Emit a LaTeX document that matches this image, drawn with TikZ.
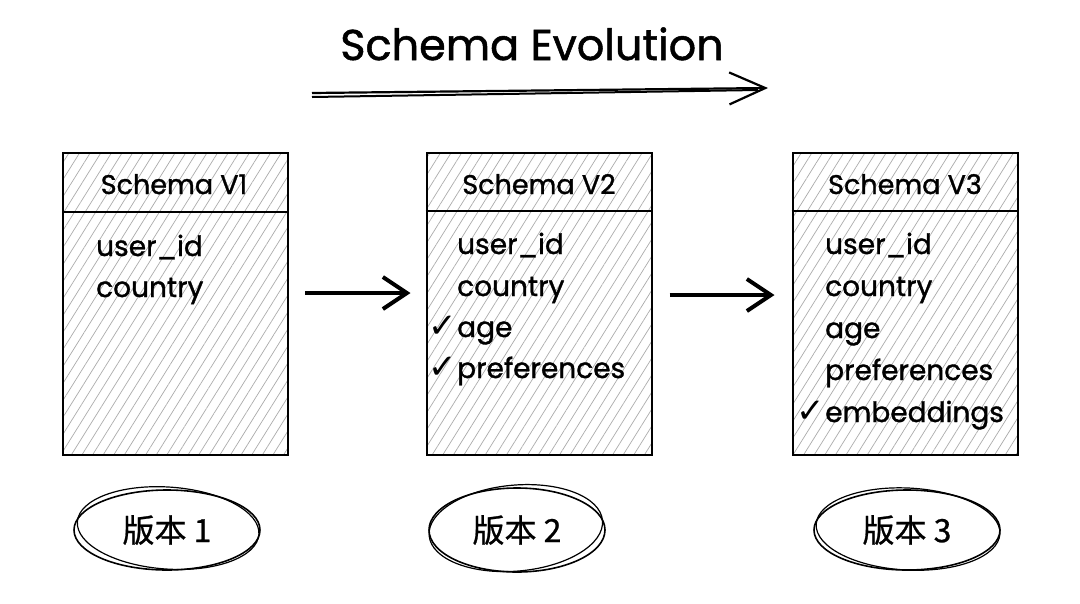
\documentclass[tikz,border=0pt]{standalone}
\usepackage{fontspec}
\setmainfont{Poppins}[FakeBold=1.2]
\newfontfamily\cjk{Noto Sans CJK SC}[FakeBold=0.8]
\newfontfamily\sym{DejaVu Sans}
\usetikzlibrary{arrows.meta,patterns.meta,shapes.geometric,calc}
\begin{document}
\begin{tikzpicture}[x=1pt,y=-1pt,
  table/.style={draw, line width=2pt, minimum width=225pt, minimum height=302pt,
    pattern={Lines[angle=58,distance=9pt,line width=0.7pt]}, pattern color=gray!65, inner sep=0pt},
  head/.style={font=\fontsize{27}{30}\selectfont, anchor=base, inner sep=0pt},
  field/.style={font=\fontsize{28}{32}\selectfont, anchor=base west, inner sep=0pt},
  tick/.style={font=\sym\bfseries\fontsize{34}{36}\selectfont, anchor=base east, inner sep=0pt},
  flow/.style={line width=4pt, -{Straight Barb[length=24pt,width=32pt,line width=4pt]}},
  version/.style={ellipse, draw, line width=1.6pt, font=\cjk\fontsize{32}{36}\selectfont},
  sketch/.style={line width=1.2pt}
]
\fill[white] (0,0) rectangle (1080,603);
\useasboundingbox (0,0) rectangle (1080,603);

% title
\node[font=\fontsize{43}{46}\selectfont, anchor=base, inner sep=0pt] (title) at (532,60) {Schema Evolution};
\coordinate (ta) at (312,93);
\coordinate (tb) at (312,97);
\coordinate (te) at (768,88);
\coordinate (tf) at (758,90);
\draw[line width=2.2pt, -{Straight Barb[length=36pt,width=32pt,line width=2.2pt]}] (ta) -- (te);
\draw[line width=2pt] (tb) -- (tf);

% tables
\node[table] (b1) at (175.5,304) {};
\node[table] (b2) at (539,304) {};
\node[table] (b3) at (905,304) {};
\foreach \b in {b1,b2,b3}{
  \draw[line width=2pt] ($(\b.north west)+(0,59)$) -- ($(\b.north east)+(0,59)$);
}

\node[head] (h1) at (174,194) {Schema V1};
\node[head] (h2) at (539,194) {Schema V2};
\node[head] (h3) at (905,194) {Schema V3};

\node[field] (f11) at (96,256) {user\_id};
\node[field] (f12) at (96,297) {country};

\node[field] (f21) at (457,254) {user\_id};
\node[field] (f22) at (457,296) {country};
\node[field] (f23) at (457,337) {age};
\node[field] (f24) at (457,378) {preferences};
\node[tick] (k23) at (f23.base west) {✓};
\node[tick] (k24) at (f24.base west) {✓};

\node[field] (f31) at (825,254) {user\_id};
\node[field] (f32) at (825,296) {country};
\node[field] (f33) at (825,338) {age};
\node[field] (f34) at (825,380) {preferences};
\node[field] (f35) at (825,422) {embeddings};
\node[tick] (k35) at (f35.base west) {✓};

% flow arrows
\draw[flow] ($(b1.east)+(17,-11)$) -- ($(b2.west)+(-15,-11)$);
\draw[flow] ($(b2.east)+(17,-9)$) -- ($(b3.west)+(-17,-9)$);

% versions
\node[version, minimum width=186pt, minimum height=80pt] (v1) at (167,530) {版本 1};
\node[version, minimum width=176pt, minimum height=84pt] (v2) at (517,530) {版本 2};
\node[version, minimum width=186pt, minimum height=80pt] (v3) at (907,530) {版本 3};
\draw[sketch, rotate around={-4:(v1.center)}] ($(v1.center)+(1,-2)$) ellipse [x radius=91pt, y radius=41pt];
\draw[sketch, rotate around={5:(v2.center)}] ($(v2.center)+(-1,-2)$) ellipse [x radius=87pt, y radius=43pt];
\draw[sketch, rotate around={-3:(v3.center)}] ($(v3.center)+(1,-1)$) ellipse [x radius=92pt, y radius=41pt];
\end{tikzpicture}
\end{document}
